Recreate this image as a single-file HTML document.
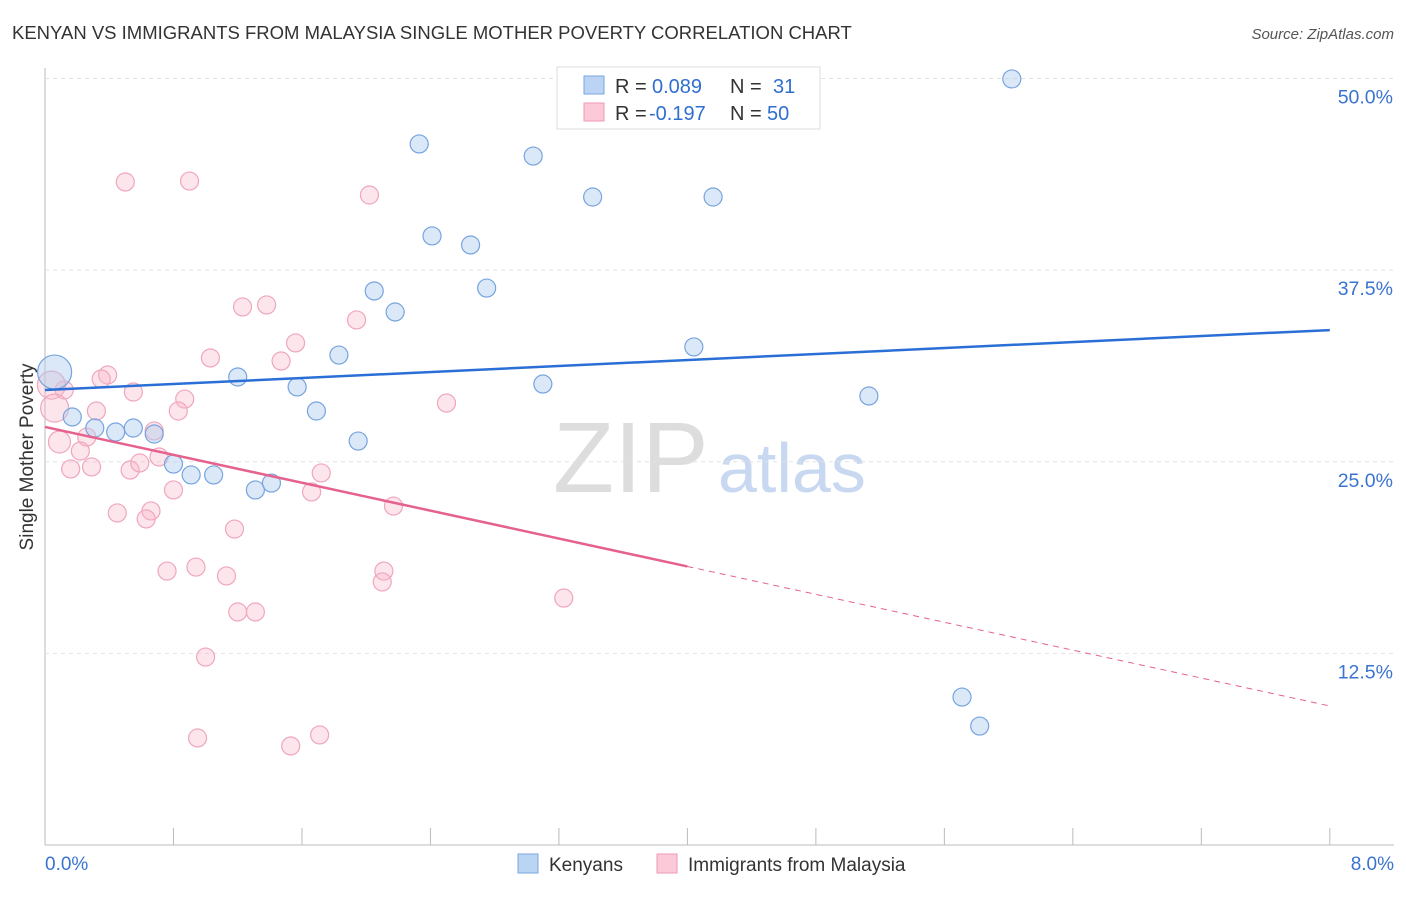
<!DOCTYPE html>
<html><head><meta charset="utf-8"><style>
body{margin:0;background:#fff;font-family:"Liberation Sans",sans-serif}
svg text{font-family:"Liberation Sans",sans-serif}
</style></head><body>
<svg width="1406" height="892" id="c">
<text x="12" y="39" font-size="18.5" fill="#333">KENYAN VS IMMIGRANTS FROM MALAYSIA SINGLE MOTHER POVERTY CORRELATION CHART</text>
<text x="1394" y="39" font-size="15" fill="#555" text-anchor="end" font-style="italic">Source: ZipAtlas.com</text>
<text x="33" y="457" font-size="19" fill="#333" text-anchor="middle" transform="rotate(-90 33 457)">Single Mother Poverty</text>
<text x="553" y="492" font-size="100" fill="#ddd" font-family="Liberation Serif">ZIP</text>
<text x="718" y="492" font-size="70" fill="#c8d8f0">atlas</text>
<g id="grid"></g><g id="marks"></g>
<g>
<rect x="557" y="67" width="263" height="62" fill="#fff" stroke="#ddd"/>
<rect x="584" y="76" width="20" height="18" fill="#bcd4f3" stroke="#7aa6e0"/>
<rect x="584" y="103" width="20" height="18" fill="#fbc9d8" stroke="#ee9ab5"/>
<text x="615" y="93" font-size="20" fill="#333">R =</text>
<text x="652" y="93" font-size="20" fill="#2f6fd0">0.089</text>
<text x="730" y="93" font-size="20" fill="#333">N =</text>
<text x="773" y="93" font-size="20" fill="#2f6fd0">31</text>
<text x="615" y="120" font-size="20" fill="#333">R =</text>
<text x="649" y="120" font-size="20" fill="#2f6fd0">-0.197</text>
<text x="730" y="120" font-size="20" fill="#333">N =</text>
<text x="767" y="120" font-size="20" fill="#2f6fd0">50</text>
</g>
<g>
<rect x="518" y="854" width="20" height="19" fill="#bcd4f3" stroke="#7aa6e0"/>
<text x="549" y="871" font-size="19" fill="#333">Kenyans</text>
<rect x="657" y="854" width="20" height="19" fill="#fbc9d8" stroke="#ee9ab5"/>
<text x="688" y="871" font-size="19" fill="#333">Immigrants from Malaysia</text>
</g>
</svg>
<script>
const xTicks=[0,1,2,3,4,5,6,7,8];
const yTicks=[12.5,25,37.5,50];
const yLabels=["12.5%","25.0%","37.5%","50.0%"];
const blueX=[6.02,2.33,3.04,3.41,4.16,2.41,2.65,2.05,2.75,2.18,1.83,4.04,1.20,1.57,3.10,5.13,1.69,1.95,0.17,0.31,0.44,0.55,0.68,0.80,0.91,1.05,1.31,1.41,5.71,5.82,0.06];
const blueY=[49.97,45.73,44.94,42.27,42.27,39.73,39.14,36.14,36.33,34.77,31.96,32.49,30.53,29.88,30.07,29.29,28.31,26.35,27.92,27.20,26.94,27.20,26.81,24.85,24.14,24.14,23.16,23.61,9.65,7.76,30.85];
const blueR=[9,9,9,9,9,9,9,9,9,9,9,9,9,9,9,9,9,9,9,9,9,9,9,9,9,9,9,9,9,9,17];
const pinkX=[0.50,0.90,2.02,1.23,1.38,1.94,1.56,1.03,1.47,0.39,0.35,0.55,0.12,0.32,0.87,0.83,2.50,0.68,0.26,0.22,0.09,0.16,0.29,0.53,0.59,0.71,0.80,1.72,1.66,2.17,0.45,0.66,0.63,1.18,0.76,0.94,1.13,2.11,2.10,3.23,1.20,1.31,1.00,0.95,1.53,1.71,0.04,0.06];
const pinkY=[43.25,43.31,42.40,35.10,35.23,34.25,32.75,31.77,31.57,30.66,30.40,29.55,29.68,28.31,29.09,28.31,28.83,27.01,26.61,25.70,26.29,24.53,24.66,24.46,24.92,25.31,23.16,24.27,23.03,22.11,21.66,21.79,21.27,20.61,17.87,18.13,17.55,17.87,17.16,16.11,15.20,15.20,12.26,6.98,6.46,7.18,30.0,28.5];
const pinkR=[9,9,9,9,9,9,9,9,9,9,9,9,9,9,9,9,9,9,9,9,11,9,9,9,9,9,9,9,9,9,9,9,9,9,9,9,9,9,9,9,9,9,9,9,9,9,14,14];
const blueTrend=[29.68,33.59];
const pinkTrend=[27.27,9.07];
const pinkSolidEnd=4;
const X=v=>45+v*160.6, Y=v=>845-v*15.33;
const NS="http://www.w3.org/2000/svg";
const grid=document.getElementById('grid'), marks=document.getElementById('marks');
function mk(tag,a,p){const e=document.createElementNS(NS,tag);for(const k in a)e.setAttribute(k,a[k]);p.appendChild(e);return e;}
let e=mk('line',{x1:45,x2:45,y1:68,y2:845,stroke:'#bbb'},grid);


e=mk('line',{x1:45,x2:1394,y1:845,y2:845,stroke:'#bbb'},grid);


e=mk('line',{x1:45,x2:1394,y1:Y(50),y2:Y(50),stroke:'#ddd','stroke-dasharray':'4,4'},grid);


yTicks.forEach((t,i)=>{
 let g=mk('line',{x1:45,x2:1394,y1:Y(t),y2:Y(t),stroke:'#e2e2e2','stroke-dasharray':'4,4'},grid);
 
 
 let tx=mk('text',{x:1393,y:Y(t)+25,'font-size':19.5,fill:'#3a74d0','text-anchor':'end'},grid);tx.textContent=yLabels[i];
 
 
});
for(let v=0;v<=8;v+=0.8){
 let t=mk('line',{x1:X(v),x2:X(v),y1:828,y2:845,stroke:'#bbb'},grid);
 
 
}
[[0,"0.0%","start",45],[8,"8.0%","end",1394]].forEach(a=>{
 let tx=mk('text',{x:a[3],y:870,'font-size':19,fill:'#3a74d0','text-anchor':a[2]},grid);tx.textContent=a[1];
 
 
});
pinkX.forEach((x,i)=>{
 let c=mk('circle',{cx:X(x),cy:Y(pinkY[i]),r:pinkR[i],fill:'rgba(248,180,200,0.35)',stroke:'#efa6be','stroke-width':1.2},marks);
 
 
});
blueX.forEach((x,i)=>{
 let c=mk('circle',{cx:X(x),cy:Y(blueY[i]),r:blueR[i],fill:'rgba(175,203,240,0.45)',stroke:'#77a4de','stroke-width':1.2},marks);
 
 
});
let l=mk('line',{x1:X(0),y1:Y(blueTrend[0]),x2:X(8),y2:Y(blueTrend[1]),stroke:'#2a6fd6','stroke-width':2.5},marks);


const pm=pinkTrend[0]+(pinkTrend[1]-pinkTrend[0])*pinkSolidEnd/8;
l=mk('line',{x1:X(0),y1:Y(pinkTrend[0]),x2:X(pinkSolidEnd),y2:Y(pm),stroke:'#e5628e','stroke-width':2.5},marks);


l=mk('line',{x1:X(pinkSolidEnd),y1:Y(pm),x2:X(8),y2:Y(pinkTrend[1]),stroke:'#e5628e','stroke-width':1,'stroke-dasharray':'6,5'},marks);


</script>
</body></html>
